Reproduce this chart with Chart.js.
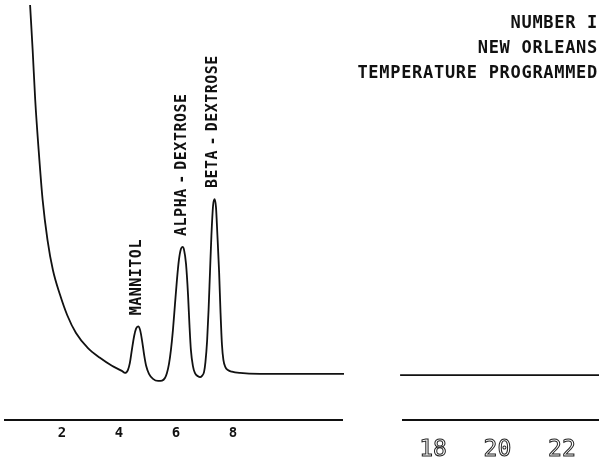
<!DOCTYPE html>
<html>
<head>
<meta charset="utf-8">
<script src="https://cdn.jsdelivr.net/npm/chart.js@4.4.1/dist/chart.umd.min.js"></script>
<style>
  html, body { margin:0; padding:0; background:#fff; }
  #wrap { position:relative; width:599px; height:462px; overflow:hidden; }
  canvas { position:absolute; top:0; }
  #left { left:0; }
  #right { left:350px; }
  #header { position:absolute; right:1px; top:10px; text-align:right; color:#111;
    font:bold 17px 'DejaVu Sans Mono', monospace; line-height:25px; letter-spacing:0.7px; }
</style>
</head>
<body>
<div id="wrap">
  <canvas id="left" width="350" height="462"></canvas>
  <canvas id="right" width="249" height="462"></canvas>
  <div id="header">NUMBER I<br>NEW ORLEANS<br>TEMPERATURE PROGRAMMED</div>
</div>
<script>
// retention time (min) and detector signal
const leftTimes = [0.88, 0.97, 1.06, 1.18, 1.32, 1.49, 1.68, 1.93, 2.18, 2.49, 2.91, 3.33, 3.75, 4.10,
  4.21, 4.31, 4.38, 4.45, 4.53, 4.60, 4.67, 4.74, 4.81, 4.88, 4.95, 5.05, 5.19, 5.37,
  5.51, 5.61, 5.68, 5.75, 5.82, 5.89, 5.96, 6.03, 6.10, 6.17, 6.23, 6.28, 6.35, 6.42, 6.47, 6.52,
  6.59, 6.66, 6.77, 6.84,
  6.91, 6.98, 7.03, 7.09, 7.14, 7.19, 7.24, 7.30, 7.35, 7.40, 7.45, 7.51, 7.56, 7.61, 7.66, 7.73,
  7.82, 7.96, 8.24, 8.94, 10.35, 11.89];
const leftSignal = [98.8, 88.1, 76.2, 64.3, 52.4, 42.9, 35.7, 29.8, 25.0, 20.7, 17.1, 14.8, 12.9, 11.7,
  11.2, 11.9, 13.6, 16.7, 20.0, 21.8, 22.3, 21.4, 18.8, 15.5, 12.9, 11.0, 9.8, 9.3,
  9.4, 10.0, 11.2, 13.3, 16.7, 21.4, 27.4, 33.3, 38.1, 40.7, 41.2, 40.5, 37.1, 29.8, 22.6, 16.7,
  12.9, 11.2, 10.4, 10.2,
  10.5, 11.4, 13.8, 19.0, 26.2, 35.2, 44.0, 51.2, 52.6, 50.7, 44.0, 35.2, 25.5, 17.9, 14.3, 12.6,
  11.9, 11.5, 11.2, 11.0, 11.0, 11.0];
const rightTimes = [16.98, 23.2];
const rightSignal = [10.7, 10.7];
const leftTicks = [2, 4, 6, 8];
const rightTicks = [18, 20, 22];
const peakNames = ['MANNITOL', 'ALPHA - DEXTROSE', 'BETA - DEXTROSE'];
const peakTimes = [4.63, 6.21, 7.30];
const peakTops = [22.3, 41.2, 52.6];

const ink = '#111';
const points = (xs, ys) => xs.map((t, i) => ({ x: t, y: ys[i] }));

const peakLabels = {
  id: 'peakLabels',
  afterDatasetsDraw(chart) {
    const { ctx, scales: { x, y } } = chart;
    ctx.save();
    ctx.font = "bold 15px 'DejaVu Sans Mono', monospace";
    ctx.letterSpacing = '0.5px';
    ctx.wordSpacing = '-5px';
    ctx.fillStyle = ink;
    ctx.textAlign = 'left';
    ctx.textBaseline = 'middle';
    peakNames.forEach((name, i) => {
      ctx.save();
      ctx.translate(x.getPixelForValue(peakTimes[i]), y.getPixelForValue(peakTops[i]) - 11);
      ctx.rotate(-Math.PI / 2);
      ctx.fillText(name, 0, 0);
      ctx.restore();
    });
    ctx.restore();
  }
};

function trace(id, xs, ys, xmin, xmax, ticks, tickOpts, pad, plugins) {
  return new Chart(document.getElementById(id), {
    type: 'line',
    data: { datasets: [{ data: points(xs, ys), borderColor: ink, borderWidth: 1.8,
      pointRadius: 0, cubicInterpolationMode: 'monotone', clip: false }] },
    options: {
      responsive: false, animation: false,
      layout: { padding: pad },
      plugins: { legend: { display: false }, tooltip: { enabled: false } },
      scales: {
        x: {
          type: 'linear', min: xmin, max: xmax,
          afterBuildTicks: s => { s.ticks = ticks.map(v => ({ value: v })); },
          afterFit: s => { s.height = 42; },
          grid: { display: false, drawTicks: false },
          border: { display: true, color: ink, width: 2 },
          ticks: Object.assign({ maxRotation: 0, autoSkip: false }, tickOpts)
        },
        y: { display: false, min: 0, max: 100 }
      }
    },
    plugins: plugins
  });
}

trace('left', leftTimes, leftSignal, 0, 11.82, leftTicks,
  { font: { family: "'DejaVu Sans Mono', monospace", size: 14, weight: 'bold' }, color: ink, padding: 5 },
  { left: 5, right: 8, top: 0, bottom: 0 }, [peakLabels]);

trace('right', rightTimes, rightSignal, 17.07, 23.15, rightTicks,
  { font: { family: "'DejaVu Sans Mono', monospace", size: 23, weight: 'normal' },
    color: 'rgba(0,0,0,0)', textStrokeColor: '#222', textStrokeWidth: 1, padding: 16 },
  { left: 53, right: 0, top: 0, bottom: 0 }, []);
</script>
</body>
</html>
